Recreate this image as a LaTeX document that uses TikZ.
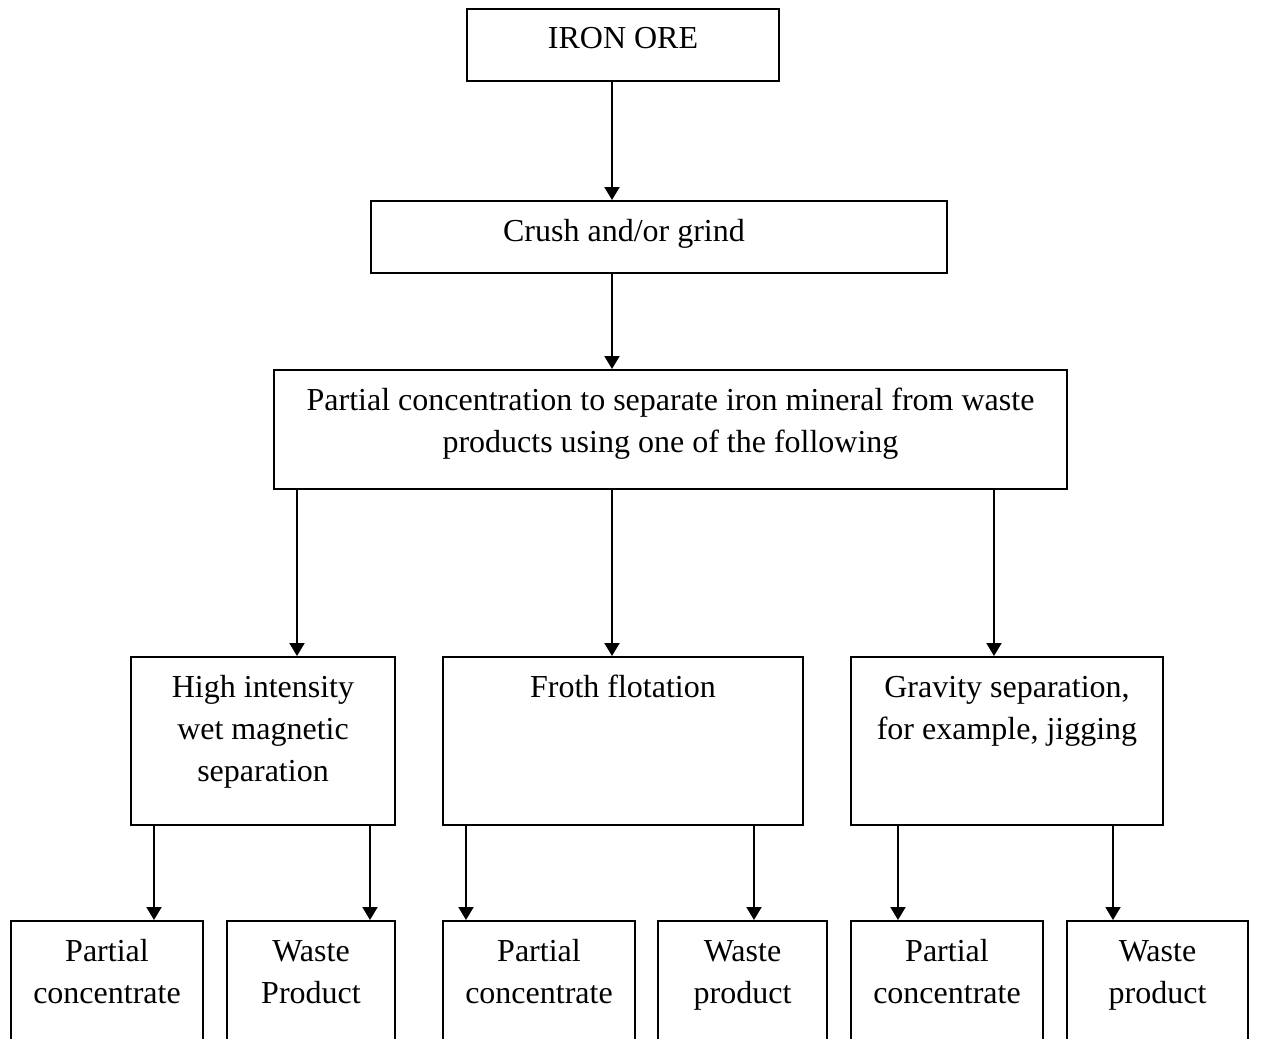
\documentclass[tikz,border=0pt]{standalone}
\usepackage{fontspec}
\setmainfont{Liberation Serif}
\usepackage{tikz}
\usetikzlibrary{arrows.meta}
\newcommand{\boxtxt}[3]{\parbox[t][#2][t]{#1}{\fontsize{16}{21}\selectfont\centering\rule{0pt}{20pt}#3}}

\begin{document}
\begin{tikzpicture}[x=0.5pt,y=-0.5pt]
        \tikzstyle{every node}+=[inner sep=0pt]
        \tikzstyle{box}=[draw=black,line width=1pt,anchor=north west]
        \tikzstyle{arr}=[black,line width=1pt,-{Triangle[length=6.5pt,width=7.5pt]}]
        \useasboundingbox (0,0) rectangle (1262,1038);
        \node [box] (ore) at (466,8) {\boxtxt{156pt}{36pt}{IRON ORE}};
        \node [box] (crush) at (370,200) {\boxtxt{288pt}{36pt}{Crush and/or grind\hspace*{35pt}}};
        \node [box] (part) at (273,369) {\boxtxt{396.5pt}{59.5pt}{Partial concentration to separate iron mineral from waste\\ products using one of the following}};
        \node [box] (hims) at (130,656) {\boxtxt{132pt}{84pt}{High intensity\\ wet magnetic\\ separation}};
        \node [box] (froth) at (442,656) {\boxtxt{180pt}{84pt}{Froth flotation}};
        \node [box] (grav) at (850,656) {\boxtxt{156pt}{84pt}{Gravity separation,\\ for example, jigging}};
        \node [box] (pc1) at (10,920) {\boxtxt{96pt}{75pt}{Partial\\ concentrate}};
        \node [box] (wp1) at (226,920) {\boxtxt{84pt}{75pt}{Waste\\ Product}};
        \node [box] (pc2) at (442,920) {\boxtxt{96pt}{75pt}{Partial\\ concentrate}};
        \node [box] (wp2) at (657,920) {\boxtxt{84.5pt}{75pt}{Waste\\ product}};
        \node [box] (pc3) at (850,920) {\boxtxt{96pt}{75pt}{Partial\\ concentrate}};
        \node [box] (wp3) at (1066,920) {\boxtxt{90.5pt}{75pt}{Waste\\ product}};
        \coordinate (xmid) at (612,0);
        \coordinate (xleft) at (297,0);
        \coordinate (xright) at (994,0);
        \draw [arr] (ore.south -| xmid) -- (crush.north -| xmid);
        \draw [arr] (crush.south -| xmid) -- (part.north -| xmid);
        \draw [arr] (part.south -| xleft) -- (hims.north -| xleft);
        \draw [arr] (part.south -| xmid) -- (froth.north -| xmid);
        \draw [arr] (part.south -| xright) -- (grav.north -| xright);
        \coordinate (x1) at (154,0);
        \coordinate (x2) at (370,0);
        \coordinate (x3) at (466,0);
        \coordinate (x4) at (754,0);
        \coordinate (x5) at (898,0);
        \coordinate (x6) at (1113,0);
        \draw [arr] (hims.south -| x1) -- (pc1.north -| x1);
        \draw [arr] (hims.south -| x2) -- (wp1.north -| x2);
        \draw [arr] (froth.south -| x3) -- (pc2.north -| x3);
        \draw [arr] (froth.south -| x4) -- (wp2.north -| x4);
        \draw [arr] (grav.south -| x5) -- (pc3.north -| x5);
        \draw [arr] (grav.south -| x6) -- (wp3.north -| x6);
\end{tikzpicture}
\end{document}
